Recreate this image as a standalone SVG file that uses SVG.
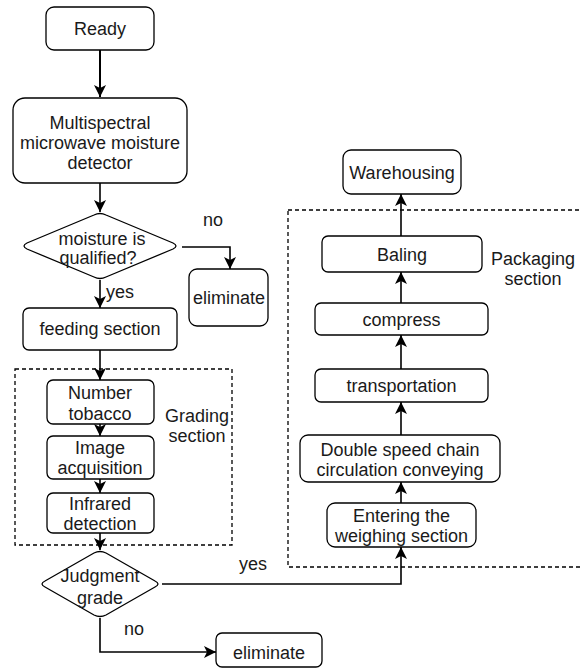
<svg xmlns="http://www.w3.org/2000/svg" width="581" height="669" viewBox="0 0 581 669">
<style>
.n{fill:#fff;stroke:#000;stroke-width:1.3}
.t{font-family:"Liberation Sans",Arial,sans-serif;font-size:18px;fill:#1a1a1a;text-anchor:middle}
.l{fill:none;stroke:#000;stroke-width:1.6}
.d{fill:none;stroke:#000;stroke-width:1.3;stroke-dasharray:4 3}
</style>
<defs>
<marker id="a" viewBox="0 0 12 12" refX="12" refY="6" markerWidth="12" markerHeight="12" markerUnits="userSpaceOnUse" orient="auto">
<path d="M0,0 L12,6 L0,12 L3,6 z" fill="#000"/>
</marker>
</defs>
<g id="groups">
<rect class="d" x="15" y="369" width="217" height="176"/>
<rect class="d" x="288" y="210" width="300" height="357"/>
<text class="t" x="197" y="421.5">Grading</text>
<text class="t" x="197" y="441.5">section</text>
<text class="t" x="533" y="264.5">Packaging</text>
<text class="t" x="533" y="284.5">section</text>
</g>
<g id="connectors">
<line class="l" x1="100" y1="50" x2="100" y2="97" marker-end="url(#a)" style="stroke-width:2"/>
<line class="l" x1="100" y1="183" x2="100" y2="212" marker-end="url(#a)"/>
<polyline class="l" points="182,247 230,247 230,269" marker-end="url(#a)"/>
<line class="l" x1="100" y1="280" x2="100" y2="308" marker-end="url(#a)"/>
<line class="l" x1="100" y1="350" x2="100" y2="380" marker-end="url(#a)"/>
<line class="l" x1="100" y1="424" x2="100" y2="436" marker-end="url(#a)"/>
<line class="l" x1="100" y1="479" x2="100" y2="493" marker-end="url(#a)"/>
<line class="l" x1="100" y1="533" x2="100" y2="550" marker-end="url(#a)"/>
<polyline class="l" points="162,584 401,584 401,547" marker-end="url(#a)"/>
<polyline class="l" points="100,618 100,652 216,652" marker-end="url(#a)"/>
<line class="l" x1="401" y1="503" x2="401" y2="482" marker-end="url(#a)"/>
<line class="l" x1="401" y1="435" x2="401" y2="402" marker-end="url(#a)"/>
<line class="l" x1="401" y1="369" x2="401" y2="335" marker-end="url(#a)"/>
<line class="l" x1="401" y1="303" x2="401" y2="272" marker-end="url(#a)"/>
<line class="l" x1="401" y1="236" x2="401" y2="194" marker-end="url(#a)"/>
<text class="t" x="213" y="226">no</text>
<text class="t" x="120" y="298">yes</text>
<text class="t" x="253" y="569.5">yes</text>
<text class="t" x="134" y="634.5">no</text>
</g>
<g id="ready"><rect class="n" x="46" y="7" width="108" height="43" rx="8"/><text class="t" x="100" y="34.5">Ready</text></g>
<g id="detector"><rect class="n" x="13" y="98" width="174" height="85" rx="12"/>
<text class="t" x="100" y="128.5">Multispectral</text><text class="t" x="100" y="148.5">microwave moisture</text><text class="t" x="100" y="168.5">detector</text></g>
<g id="moisture"><path class="n" d="M94,215 Q100,212 106,215 L173,243 Q179,246 173,249 L106,277 Q100,280 94,277 L27,249 Q21,246 27,243 Z"/>
<text class="t" x="102" y="244.5">moisture is</text><text class="t" x="98" y="263.5">qualified?</text></g>
<g id="eliminate1"><rect class="n" x="189" y="269" width="79" height="57" rx="8"/><text class="t" x="229" y="303.5">eliminate</text></g>
<g id="feeding"><rect class="n" x="23" y="308" width="154" height="42" rx="6"/><text class="t" x="100" y="334.5">feeding section</text></g>
<g id="number"><rect class="n" x="47" y="380" width="107" height="44" rx="6"/><text class="t" x="100" y="398.5">Number</text><text class="t" x="100" y="419.5">tobacco</text></g>
<g id="image"><rect class="n" x="47" y="436" width="107" height="43" rx="6"/><text class="t" x="100" y="453.5">Image</text><text class="t" x="100" y="473.5">acquisition</text></g>
<g id="infrared"><rect class="n" x="47" y="493" width="107" height="40" rx="6"/><text class="t" x="100" y="509.5">Infrared</text><text class="t" x="100" y="529.5">detection</text></g>
<g id="judgment"><path class="n" d="M94,553 Q100,550 106,553 L155,581 Q161,584 155,587 L106,615 Q100,618 94,615 L45,587 Q39,584 45,581 Z"/>
<text class="t" x="100" y="581.5">Judgment</text><text class="t" x="100" y="603.5">grade</text></g>
<g id="eliminate2"><rect class="n" x="216" y="633" width="106" height="34" rx="6"/><text class="t" x="269" y="658.5">eliminate</text></g>
<g id="warehousing"><rect class="n" x="343" y="150" width="118" height="44" rx="8"/><text class="t" x="402" y="178.5">Warehousing</text></g>
<g id="baling"><rect class="n" x="322" y="236" width="160" height="36" rx="6"/><text class="t" x="402" y="260.5">Baling</text></g>
<g id="compress"><rect class="n" x="315" y="303" width="173" height="32" rx="6"/><text class="t" x="401.5" y="325.5">compress</text></g>
<g id="transportation"><rect class="n" x="315" y="369" width="173" height="33" rx="6"/><text class="t" x="401.5" y="391.5">transportation</text></g>
<g id="double"><rect class="n" x="300" y="435" width="200" height="47" rx="8"/><text class="t" x="400" y="455.5">Double speed chain</text><text class="t" x="400" y="475.5">circulation conveying</text></g>
<g id="entering"><rect class="n" x="327" y="503" width="149" height="44" rx="8"/><text class="t" x="401.5" y="521.5">Entering the</text><text class="t" x="401.5" y="541.5">weighing section</text></g>
</svg>
